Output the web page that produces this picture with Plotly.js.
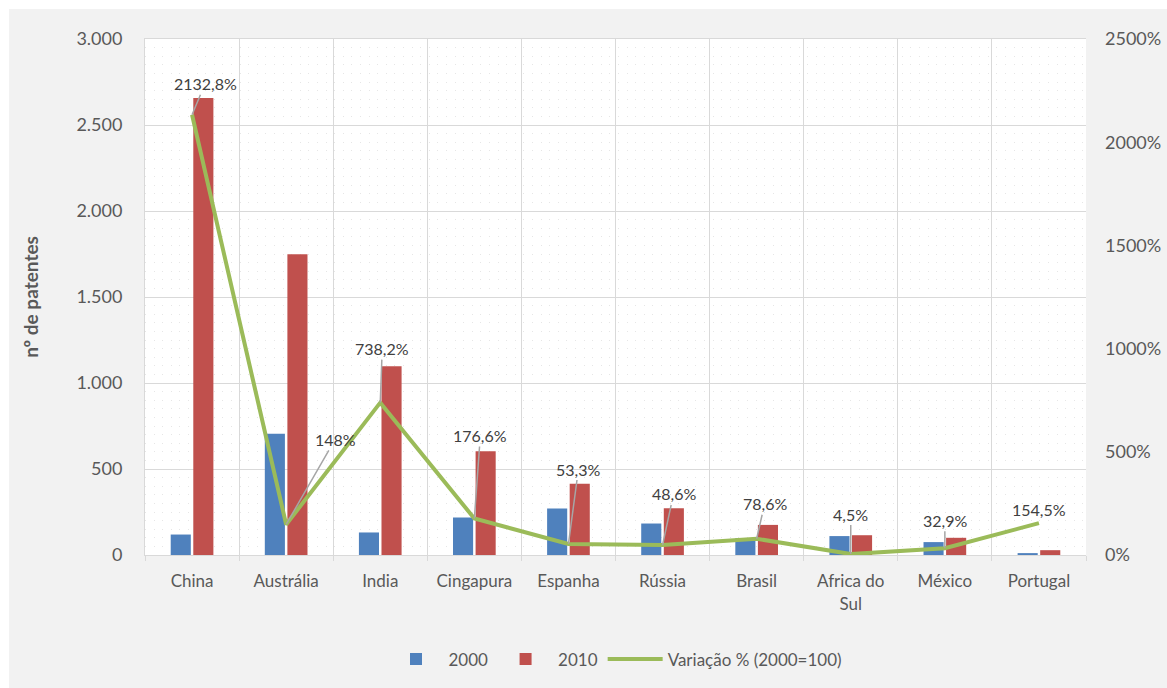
<!DOCTYPE html>
<html>
<head>
<meta charset="utf-8">
<script src="https://cdn.plot.ly/plotly-3.0.1.min.js"></script>
<style>
  html, body { margin: 0; padding: 0; background: #ffffff; }
  #chart { position: absolute; left: 9px; top: 9px; width: 1158px; height: 679px; }
</style>
</head>
<body>
<div id="chart"></div>
<script>
// ---- data ----
const categories = ["China", "Austrália", "India", "Cingapura", "Espanha", "Rússia", "Brasil", "Africa do<br>Sul", "México", "Portugal"];
const patents2000 = [119, 705, 131, 218, 270, 183, 98, 110, 75, 11];
const patents2010 = [2657, 1748, 1098, 603, 414, 272, 175, 115, 100, 28];
const variacaoPct = [2132.8, 148, 738.2, 176.6, 53.3, 48.6, 78.6, 4.5, 32.9, 154.5];
const seriesNames = ["2000", "2010", "Variação % (2000=100)"];

// label offsets (pixels, style only)
const labelOffsets = [[13, -31], [49, -85], [2, -54], [6, -83], [10, -75], [11, -51], [8, -35], [0, -40], [0, -28], [0, -14]];

const txt = '#595959';
const font = 'Lato, "Liberation Sans", sans-serif';

const traces = [
  { type: 'bar', name: seriesNames[0], x: categories, y: patents2000,
    marker: { color: '#4F81BD' }, yaxis: 'y', hoverinfo: 'skip' },
  { type: 'bar', name: seriesNames[1], x: categories, y: patents2010,
    marker: { color: '#C0504D' }, yaxis: 'y', hoverinfo: 'skip' },
  { type: 'scatter', mode: 'lines', name: seriesNames[2], x: categories, y: variacaoPct,
    line: { color: '#9BBB59', width: 4 }, yaxis: 'y2', hoverinfo: 'skip' }
];

const annotations = variacaoPct.map((v, i) => ({
  xref: 'x', yref: 'y2', x: categories[i], y: v,
  text: String(v).replace('.', ',') + '%',
  showarrow: true,
  arrowhead: 0, arrowwidth: 1.5, arrowcolor: '#a6a6a6',
  ax: labelOffsets[i][0], ay: labelOffsets[i][1],
  xanchor: 'center', yanchor: 'middle',
  font: { family: font, size: 16, color: '#404040' }
}));
// Portugal label without leader
annotations[categories.length - 1].showarrow = false;
annotations[categories.length - 1].yshift = 14;

const layout = {
  width: 1158, height: 679,
  margin: { l: 136, r: 81, t: 30, b: 132 },
  paper_bgcolor: '#f2f2f2',
  plot_bgcolor: '#ffffff',
  separators: ',.',
  font: { family: font, size: 17, color: txt },
  barmode: 'group',
  bargap: 0.52,
  bargroupgap: 0.11,
  showlegend: true,
  legend: {
    orientation: 'h', x: 0.5, xanchor: 'center', y: -0.2, yanchor: 'middle',
    font: { family: font, size: 17, color: txt },
    traceorder: 'normal', itemwidth: 55
  },
  xaxis: {
    type: 'category',
    automargin: false,
    tickson: 'boundaries',
    showgrid: true, gridcolor: '#d9d9d9', gridwidth: 1,
    showline: true, linecolor: '#d9d9d9', mirror: true,
    ticks: 'outside', ticklen: 5, tickcolor: '#d9d9d9',
    tickfont: { family: font, size: 17, color: txt },
    ticklabelstandoff: 11,
    fixedrange: true
  },
  yaxis: {
    automargin: false,
    range: [0, 3000], dtick: 500, tickformat: ',d',
    showgrid: true, gridcolor: '#d9d9d9', gridwidth: 1,
    zeroline: false,
    showline: true, linecolor: '#d9d9d9',
    ticks: '', ticklabelstandoff: 18,
    tickfont: { family: font, size: 18, color: txt },
    minor: { dtick: 50, showgrid: true, gridcolor: '#e6e6e6', gridwidth: 1, griddash: '1px,7.6px' },
    title: { text: '<b>nº de patentes</b>', font: { family: font, size: 19, color: txt }, standoff: 32 },
    fixedrange: true
  },
  yaxis2: {
    automargin: false,
    overlaying: 'y', side: 'right',
    range: [0, 2500], dtick: 500, tickformat: 'd', ticksuffix: '%',
    showgrid: false, zeroline: false, showline: false,
    ticks: '', ticklabelstandoff: 18,
    tickfont: { family: font, size: 18, color: txt },
    fixedrange: true
  },
  annotations: annotations
};

Plotly.newPlot('chart', traces, layout, { displayModeBar: false, staticPlot: true });
</script>
</body>
</html>
